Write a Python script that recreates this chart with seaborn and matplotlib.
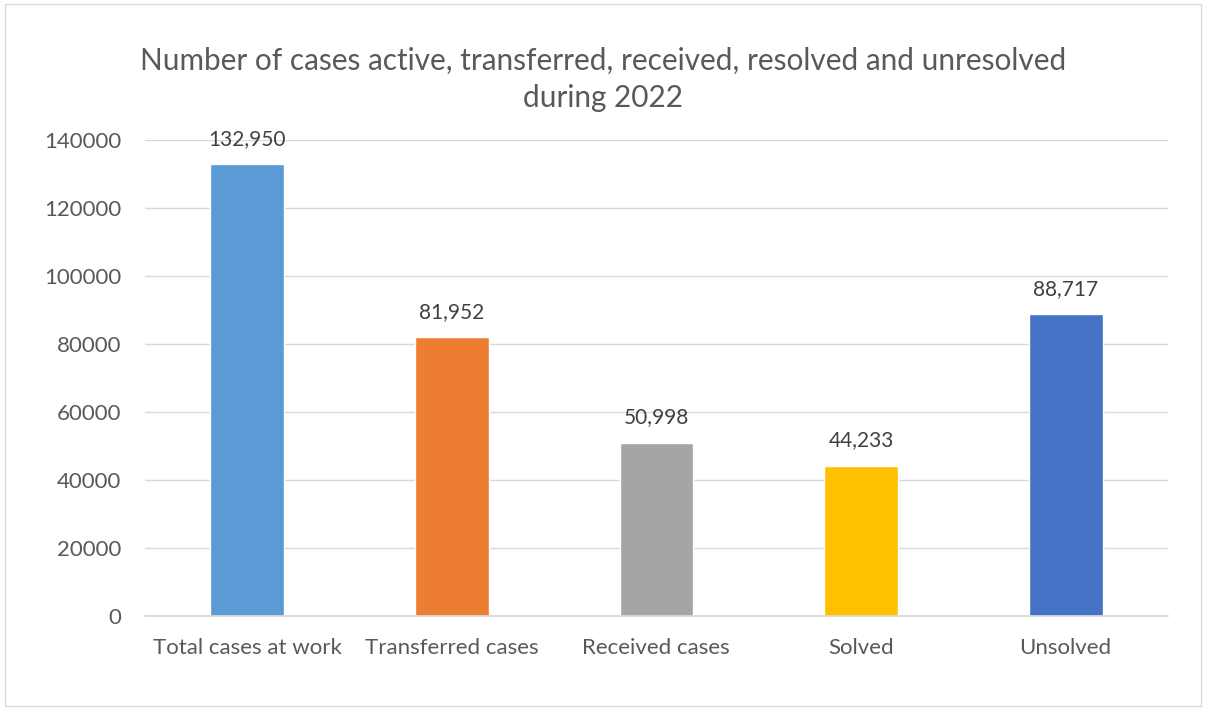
import matplotlib
matplotlib.use('Agg')
import matplotlib.pyplot as plt
import seaborn as sns
import pandas as pd
from matplotlib.patches import Rectangle

# Data
categories = ['Total cases at work', 'Transferred cases', 'Received cases', 'Solved', 'Unsolved']
values = [132950, 81952, 50998, 44233, 88717]
colors = ['#5B9BD5', '#ED7D31', '#A5A5A5', '#FFC000', '#4472C4']
yticks = [0, 20000, 40000, 60000, 80000, 100000, 120000, 140000]

df = pd.DataFrame({'category': categories, 'value': values})

sns.set_theme(style='white')
plt.rcParams['font.family'] = ['Lato', 'DejaVu Sans']
text_color = '#595959'

fig = plt.figure(figsize=(12.06, 7.12), dpi=100)
ax = fig.add_axes([0.120, 0.1348, 0.8485, 0.6686])

sns.barplot(data=df, x='category', y='value', hue='category', palette=colors,
            width=0.36, legend=False, ax=ax, saturation=1)

ax.set_ylim(0, 140000)
ax.set_yticks(yticks)
ax.set_yticklabels([str(v) for v in yticks])
ax.yaxis.grid(True, color='#D9D9D9', linewidth=1)
ax.set_axisbelow(True)
for s in ['top', 'right', 'left']:
    ax.spines[s].set_visible(False)
ax.spines['bottom'].set_color('#D9D9D9')
ax.set_xlabel('')
ax.set_ylabel('')
ax.tick_params(axis='both', colors=text_color, labelsize=16, length=0)
ax.tick_params(axis='y', pad=17)
ax.tick_params(axis='x', pad=16)

for i, v in enumerate(values):
    ax.annotate(f'{v:,}', (i, v), xytext=(0, 11), textcoords='offset points',
                ha='center', va='bottom', fontsize=15, color='#404040')

fig.text(0.5, 0.889, 'Number of cases active, transferred, received, resolved and unresolved\nduring 2022',
         ha='center', va='center', fontsize=21.4, color=text_color, linespacing=1.4)

fig.patches.append(Rectangle((0.004, 0.008), 0.992, 0.986, transform=fig.transFigure,
                             fill=False, edgecolor='#D9D9D9', linewidth=1))

plt.savefig('out.png', dpi=100)
